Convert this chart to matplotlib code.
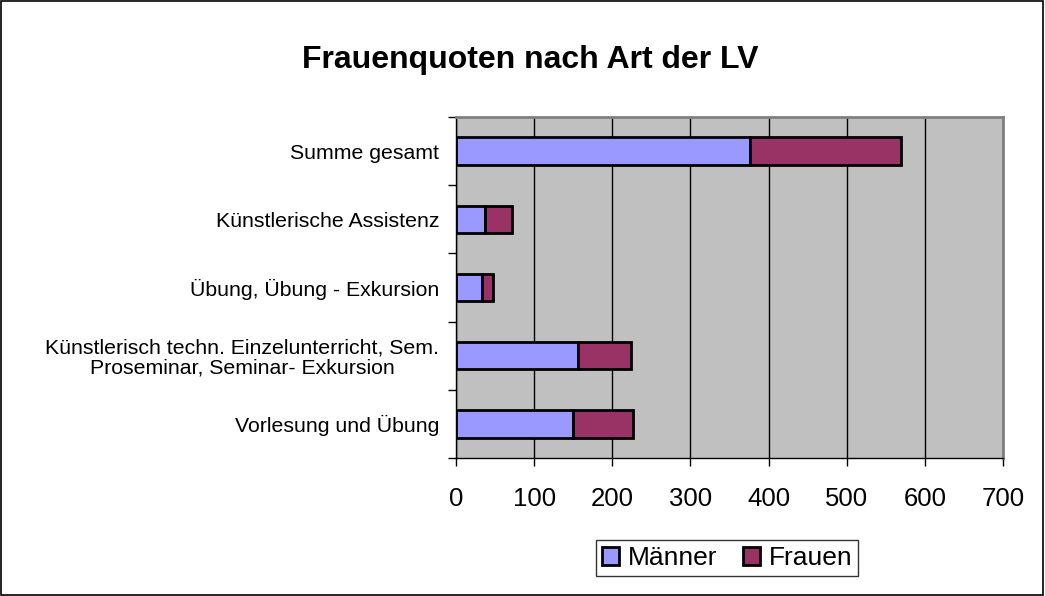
import numpy as np
import matplotlib.pyplot as plt
from matplotlib.patches import Rectangle

plt.rcParams['font.family'] = ['Liberation Sans', 'DejaVu Sans']

# categories listed bottom to top
kategorien = ["Vorlesung und Übung",
              "Künstlerisch techn. Einzelunterricht, Sem.\nProseminar, Seminar- Exkursion",
              "Übung, Übung - Exkursion",
              "Künstlerische Assistenz",
              "Summe gesamt"]
maenner = [150, 156, 33, 37, 376]
frauen = [76, 68, 14, 34, 193]
x_ticks = [0, 100, 200, 300, 400, 500, 600, 700]

fig = plt.figure(figsize=(10.45, 5.96), dpi=100)
fig.patches.append(Rectangle((0.0005, 0.001), 0.998, 0.997, transform=fig.transFigure,
                             fill=False, edgecolor='black', linewidth=1.2))

ax = fig.add_axes([0.4364, 0.2315, 0.5234, 0.5722])
ax.set_facecolor('#C0C0C0')

y = np.arange(len(kategorien))
ax.barh(y, maenner, height=0.4, color='#9999FF', edgecolor='black',
        linewidth=2, label='Männer', zorder=3)
ax.barh(y, frauen, left=maenner, height=0.4, color='#993366', edgecolor='black',
        linewidth=2, label='Frauen', zorder=3)

ax.set_xlim(0, 700)
ax.set_ylim(-0.5, len(kategorien) - 0.5)
ax.set_xticks(x_ticks)
ax.tick_params(axis='x', labelsize=18.5, length=6, pad=15, width=1)
ax.xaxis.grid(True, color='black', linewidth=1, zorder=1)
ax.set_axisbelow(True)

ax.set_yticks(y)
ax.set_yticklabels(kategorien, fontsize=15.3, multialignment='center', linespacing=1.05)
ax.tick_params(axis='y', which='major', length=0, pad=12)
ax.set_yticks(np.arange(len(kategorien) + 1) - 0.5, minor=True)
ax.tick_params(axis='y', which='minor', length=6, width=1)

for s in ['top', 'right']:
    ax.spines[s].set_color('#808080')
    ax.spines[s].set_linewidth(2)
for s in ['left', 'bottom']:
    ax.spines[s].set_color('black')
    ax.spines[s].set_linewidth(1)

fig.text(0.5077, 0.9, 'Frauenquoten nach Art der LV', fontsize=23,
         fontweight='bold', ha='center', va='center')

leg = fig.legend(loc='center', bbox_to_anchor=(0.696, 0.0635), ncol=2, fontsize=19,
                 frameon=True, fancybox=False, handlelength=0.65, handleheight=0.65,
                 handletextpad=0.34, columnspacing=0.95, borderpad=0.22)
leg.get_frame().set_edgecolor('black')
leg.get_frame().set_linewidth(1)
for h in leg.legend_handles:
    h.set_linewidth(2)

fig.savefig('out.png', dpi=100)
